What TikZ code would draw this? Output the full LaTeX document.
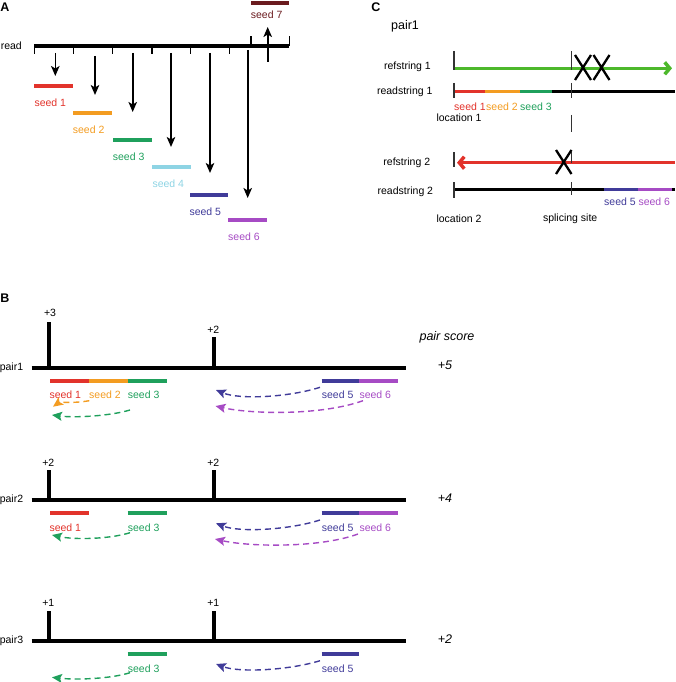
\documentclass[tikz,border=0pt]{standalone}
\usepackage{fontspec}
\setmainfont{Liberation Sans}
\usetikzlibrary{arrows.meta}
\definecolor{cred}{HTML}{E2332B}
\definecolor{corange}{HTML}{F39C21}
\definecolor{cgreen}{HTML}{1FA05C}
\definecolor{clblue}{HTML}{8ED4E4}
\definecolor{cblue}{HTML}{403B99}
\definecolor{cpurple}{HTML}{A64BC4}
\definecolor{cmaroon}{HTML}{6B1B1F}
\definecolor{cbgreen}{HTML}{4DB82B}
\definecolor{ctick}{HTML}{333333}
\begin{document}
\begin{tikzpicture}[x=1pt,y=-1pt,
  txt/.style={font=\fontsize{10.5}{12}\selectfont, inner sep=0pt},
  lbl/.style={txt, anchor=west},
  panel/.style={font=\fontsize{12.5}{14}\selectfont\bfseries, inner sep=0pt},
  score/.style={font=\fontsize{12.5}{14}\selectfont\itshape, inner sep=0pt},
  thickline/.style={line width=4pt},
  seedbar/.style={line width=4pt},
  tickA/.style={line width=1.6pt},
  tickC/.style={line width=1.5pt, ctick},
  darrow/.style={-{Stealth[length=10pt,width=8.5pt,inset=2.5pt]}, line width=1.6pt},
  dasharr/.style={dash pattern=on 6pt off 4pt, line width=1.4pt, -{Stealth[length=10pt,width=9pt,inset=2pt]}},
  xmark/.style={line width=2.3pt},
  ]
\useasboundingbox (0,0) rectangle (675,682);

% ---------------- Panel A ----------------
\node[panel] (lA) at (5,7) {A};
\node[txt, anchor=east] (read) at (22,45.7) {read};
\draw[thickline] (34.3,45.7) -- (289.3,45.7);
\foreach \x in {34.3,73.3,112.3,151.7,190.3,229.3}
  \draw[tickA] (\x,45.7) -- (\x,54);
\draw[tickA] (250.7,45.7) -- (250.7,36);
\draw[tickA] (289.3,45.7) -- (289.3,36);

\draw[darrow] (55.3,53) -- (55.3,76);
\draw[darrow] (95,56) -- (95,95);
\draw[darrow] (132.7,53) -- (132.7,112);
\draw[darrow] (171,53) -- (171,147);
\draw[darrow] (210,53) -- (210,173);
\draw[darrow] (247.7,50) -- (247.7,198);
\draw[darrow] (267.7,62) -- (267.7,27);

\draw[seedbar, cred] (34.3,86) -- (73.3,86);
\node[lbl, text=cred] (a1) at (34.3,103) {seed 1};
\draw[seedbar, corange] (73.3,113) -- (112.3,113);
\node[lbl, text=corange] (a2) at (72.7,130) {seed 2};
\draw[seedbar, cgreen] (113,140) -- (152,140);
\node[lbl, text=cgreen] (a3) at (112.7,157) {seed 3};
\draw[seedbar, clblue] (152,167) -- (191,167);
\node[lbl, text=clblue] (a4) at (152.3,184) {seed 4};
\draw[seedbar, cblue] (190,195) -- (228,195);
\node[lbl, text=cblue] (a5) at (189.3,212) {seed 5};
\draw[seedbar, cpurple] (228,220) -- (267,220);
\node[lbl, text=cpurple] (a6) at (228,237) {seed 6};
\draw[seedbar, cmaroon] (251,3.5) -- (289.3,3.5);
\node[lbl, text=cmaroon] (a7) at (250.7,15) {seed 7};

% ---------------- Panel C ----------------
\node[panel] (lC) at (376,7) {C};
\node[font=\fontsize{12.5}{14}\selectfont, inner sep=0pt] (cpair) at (405,26.7) {pair1};
\node[txt, anchor=east] (rs1) at (431,66.7) {refstring 1};
\node[txt, anchor=east] (rd1) at (432.7,91.7) {readstring 1};
\node[txt, anchor=east] (rs2) at (430.3,162.3) {refstring 2};
\node[txt, anchor=east] (rd2) at (433.3,191.7) {readstring 2};

\draw[line width=3.5pt, cbgreen, -{Straight Barb[length=5pt,width=12pt]}] (454,68.3) -- (672,68.3);
\draw[tickC] (454,51) -- (454,70);
\draw[tickC] (571.7,51) -- (571.7,70);
\draw[xmark] (575,55) -- (591,80) (575,80) -- (591,55);
\draw[xmark] (593.5,55) -- (609.5,80) (593.5,80) -- (609.5,55);

\draw[line width=3pt, cred] (454,91.7) -- (485,91.7);
\draw[line width=3pt, corange] (485,91.7) -- (520,91.7);
\draw[line width=3pt, cgreen] (520,91.7) -- (552.3,91.7);
\draw[line width=3pt, black] (552.3,91.7) -- (675,91.7);
\draw[tickC] (454,83) -- (454,98);
\draw[tickC] (571.7,83) -- (571.7,98);
\node[lbl, text=cred] (c1) at (454,106.7) {seed 1};
\node[lbl, text=corange] (c2) at (486,106.7) {seed 2};
\node[lbl, text=cgreen] (c3) at (520,106.7) {seed 3};
\node[txt] (loc1) at (459,118) {location 1};
\draw[tickC] (571.7,115) -- (571.7,132);

\draw[line width=3.5pt, cred, -{Straight Barb[length=5pt,width=12pt]}] (675,162.7) -- (457,162.7);
\draw[tickC] (454,152) -- (454,167);
\draw[tickC] (571.7,152) -- (571.7,163);
\draw[xmark] (556,150) -- (571.5,174) (556,174) -- (571.5,150);

\draw[line width=3pt, black] (454,189.3) -- (604,189.3);
\draw[line width=3pt, cblue] (604,189.3) -- (638,189.3);
\draw[line width=3pt, cpurple] (638,189.3) -- (672,189.3);
\draw[line width=3pt, black] (672,189.3) -- (675,189.3);
\draw[tickC] (454,182) -- (454,198);
\draw[tickC] (571.7,182) -- (571.7,195);
\node[lbl, text=cblue] (c5) at (604,201.7) {seed 5};
\node[lbl, text=cpurple] (c6) at (638.3,201.7) {seed 6};
\node[txt] (loc2) at (459,218.3) {location 2};
\node[txt] (splice) at (570.2,218.3) {splicing site};

% ---------------- Panel B ----------------
\node[panel] (lB) at (5,298) {B};
\node[score] (ps) at (447,337) {pair score};

% pair1
\begin{scope}[shift={(0,367.7)}]
  \node[txt, anchor=east] (p1) at (23.3,0) {pair1};
  \draw[thickline] (31.7,0) -- (406,0);
  \draw[thickline] (49.3,1) -- (49.3,-46);
  \draw[thickline] (214,1) -- (214,-31);
  \node[txt] (p1t1) at (50,-54.4) {+3};
  \node[txt] (p1t2) at (213.3,-37.7) {+2};
  \node[score] (p1s) at (445,-2.7) {+5};
  \draw[seedbar, cred] (50,13) -- (89,13);
  \draw[seedbar, corange] (89,13) -- (127.7,13);
  \draw[seedbar, cgreen] (127.7,13) -- (166.7,13);
  \draw[seedbar, cblue] (321.7,13) -- (359.3,13);
  \draw[seedbar, cpurple] (359.3,13) -- (398.3,13);
  \node[lbl, text=cred] (b11) at (49.3,27.3) {seed 1};
  \node[lbl, text=corange] (b12) at (89,27.3) {seed 2};
  \node[lbl, text=cgreen] (b13) at (127.7,27.3) {seed 3};
  \node[lbl, text=cblue] (b15) at (321.7,27.3) {seed 5};
  \node[lbl, text=cpurple] (b16) at (359.3,27.3) {seed 6};
  \draw[dasharr, corange] (89.3,33) .. controls (72,36) and (60,34) .. (53,39);
  \draw[dasharr, cgreen] (130,42.3) .. controls (110,48.3) and (75,50.3) .. (52,47.3);
  \draw[dasharr, cblue] (320,19.6) .. controls (290,29.3) and (240,32.3) .. (216,22.3);
  \draw[dasharr, cpurple] (363,33) .. controls (320,48.3) and (250,46.3) .. (215.5,38.3);
\end{scope}

% pair2
\begin{scope}[shift={(0,500)}]
  \node[txt, anchor=east] (p2) at (23.3,0) {pair2};
  \draw[thickline] (31.7,0) -- (406,0);
  \draw[thickline] (49.3,1) -- (49.3,-30);
  \draw[thickline] (214,1) -- (214,-30);
  \node[txt] (p2t1) at (48.3,-37.3) {+2};
  \node[txt] (p2t2) at (213.3,-37.3) {+2};
  \node[score] (p2s) at (445,-1.7) {+4};
  \draw[seedbar, cred] (50,13.3) -- (89,13.3);
  \draw[seedbar, cgreen] (127.7,13.3) -- (166.7,13.3);
  \draw[seedbar, cblue] (321.7,13.3) -- (359.3,13.3);
  \draw[seedbar, cpurple] (359.3,13.3) -- (398.3,13.3);
  \node[lbl, text=cred] (b21) at (49.3,27.7) {seed 1};
  \node[lbl, text=cgreen] (b23) at (127.7,27.7) {seed 3};
  \node[lbl, text=cblue] (b25) at (321.7,27.7) {seed 5};
  \node[lbl, text=cpurple] (b26) at (359.3,27.7) {seed 6};
  \draw[dasharr, cgreen] (130,32.7) .. controls (110,39) and (75,40) .. (52,35);
  \draw[dasharr, cblue] (320,20) .. controls (290,29.7) and (240,32.7) .. (216,23.3);
  \draw[dasharr, cpurple] (358,34) .. controls (320,48) and (250,47) .. (215,39);
\end{scope}

% pair3
\begin{scope}[shift={(0,641)}]
  \node[txt, anchor=east] (p3) at (23.3,0) {pair3};
  \draw[thickline] (31.7,0) -- (406,0);
  \draw[thickline] (49.3,1) -- (49.3,-30.3);
  \draw[thickline] (214,1) -- (214,-30.3);
  \node[txt] (p3t1) at (48.3,-37.7) {+1};
  \node[txt] (p3t2) at (213.3,-37.7) {+1};
  \node[score] (p3s) at (445,-2) {+2};
  \draw[seedbar, cgreen] (127.7,13) -- (166.7,13);
  \draw[seedbar, cblue] (321.7,13) -- (359.3,13);
  \node[lbl, text=cgreen] (b33) at (127.7,27.3) {seed 3};
  \node[lbl, text=cblue] (b35) at (321.7,27.3) {seed 5};
  \draw[dasharr, cgreen] (130,31.7) .. controls (110,38) and (75,39) .. (52,36.3);
  \draw[dasharr, cblue] (320,19.7) .. controls (290,29) and (240,32) .. (216,23);
\end{scope}
\end{tikzpicture}
\end{document}
